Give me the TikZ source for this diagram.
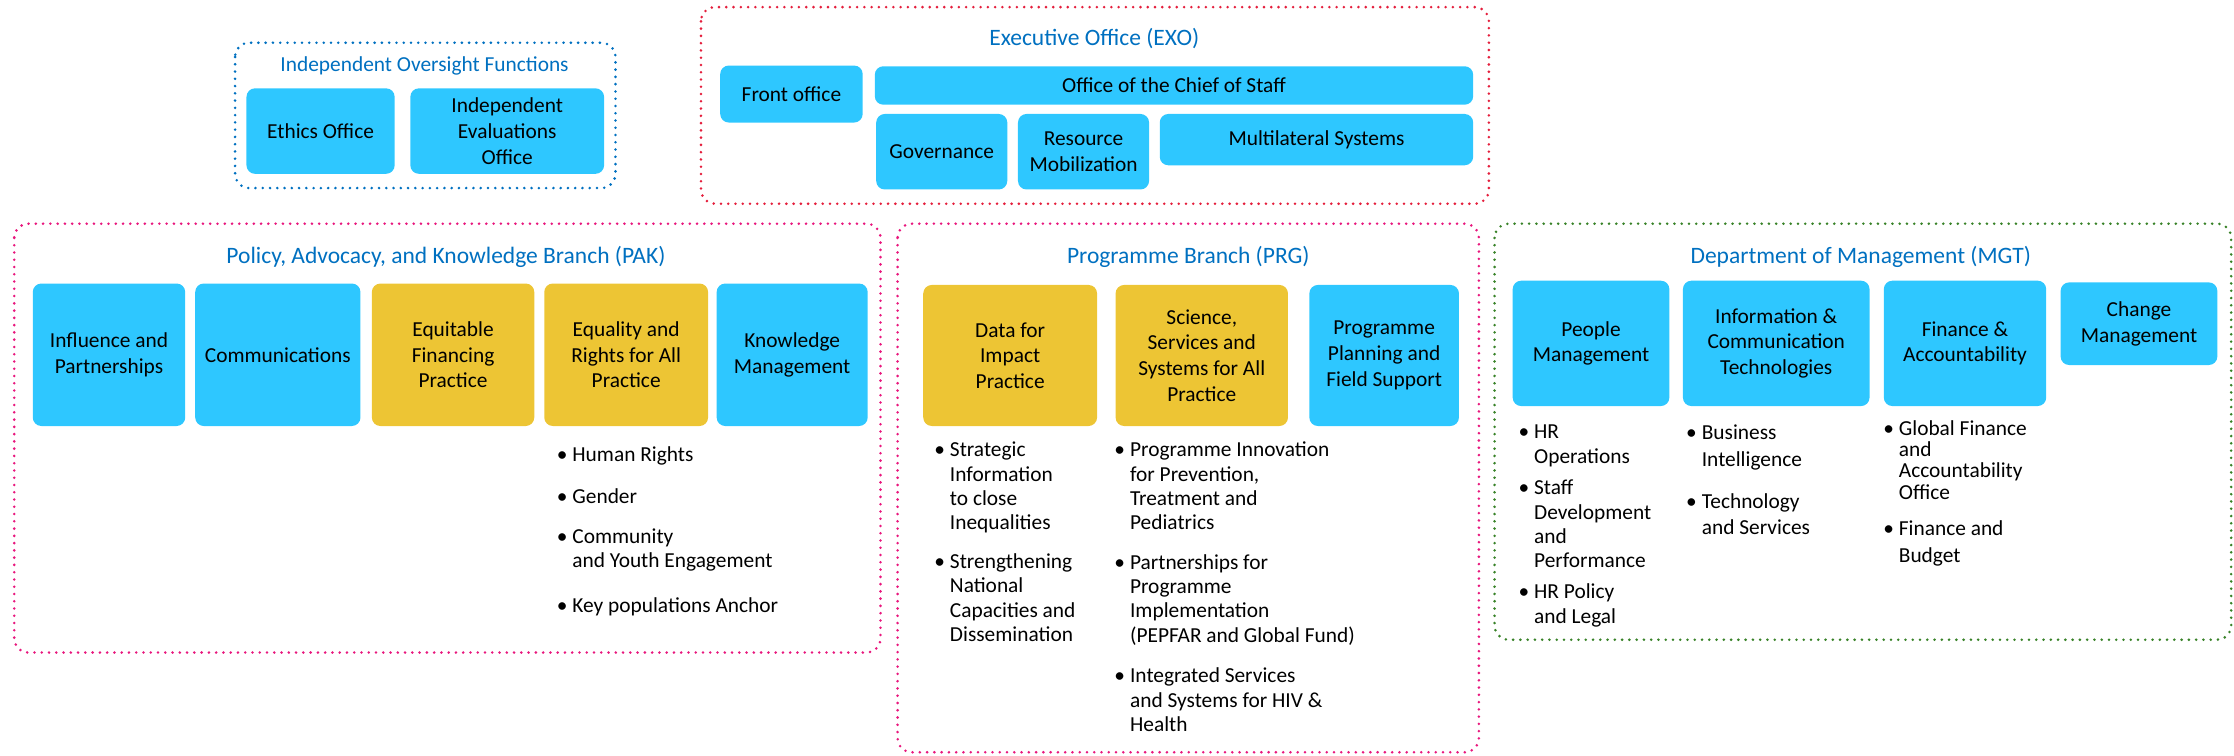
\documentclass[tikz,border=0pt]{standalone}
\usepackage{fontspec}
\setmainfont{Carlito}
\usepackage{tikz}

\definecolor{unitblue}{RGB}{46,199,255}
\definecolor{practiceyellow}{RGB}{237,197,52}
\definecolor{titleblue}{RGB}{0,112,192}
\definecolor{exored}{RGB}{228,30,60}
\definecolor{branchpink}{RGB}{232,23,125}
\definecolor{mgtgreen}{RGB}{56,130,40}

\newcommand{\bulletlist}[1]{\begin{tabular}{@{}l@{\hspace{3.5pt}}l@{}}#1\end{tabular}}

\begin{document}
\begin{tikzpicture}[x=1pt,y=-1pt,
	unitbox/.style={fill=unitblue,rounded corners=6pt,align=center,inner sep=2pt,font=\fontsize{15}{18}\selectfont},
	practicebox/.style={unitbox,fill=practiceyellow},
	groupframe/.style={line width=2pt,dash pattern=on 0pt off 5.1pt,line cap=round,rounded corners=10pt},
	grouptitle/.style={text=titleblue,font=\fontsize{16.5}{19}\selectfont},
	itemlist/.style={anchor=north west,inner sep=0pt,font=\fontsize{15}{17}\selectfont}]
		\useasboundingbox (0,0) rectangle (1568,530);
		
		% group frames
		\draw[groupframe,draw=titleblue] (165,30) rectangle (432,132);
		\draw[groupframe,draw=exored] (492,5) rectangle (1045,143);
		\draw[groupframe,draw=branchpink] (10,157) rectangle (618,458);
		\draw[groupframe,draw=branchpink] (630,157) rectangle (1038,528);
		\draw[groupframe,draw=mgtgreen] (1049,157) rectangle (1566,449);
		
		% independent oversight
		\node[grouptitle,font=\fontsize{15}{18}\selectfont] (ioftitle) at (298,46) {Independent Oversight Functions};
		\node[unitbox,minimum width=104,minimum height=60] (ethics) at (225,92) {Ethics Office};
		\node[unitbox,minimum width=136,minimum height=60] (ieo) at (356,92) {Independent\\Evaluations\\Office};
		
		% executive office
		\node[grouptitle] (exotitle) at (768,27) {Executive Office (EXO)};
		\node[unitbox,minimum width=100,minimum height=40] (front) at (555.5,66) {Front office};
		\node[unitbox,minimum width=420,minimum height=27] (chief) at (824,60) {Office of the Chief of Staff};
		\node[unitbox,minimum width=92,minimum height=53] (gov) at (661,106.5) {Governance};
		\node[unitbox,minimum width=92,minimum height=53] (resmob) at (760.5,106.5) {Resource\\Mobilization};
		\node[unitbox,minimum width=220,minimum height=36] (multi) at (924,98) {Multilateral Systems};
		
		% policy, advocacy and knowledge
		\node[grouptitle] (paktitle) at (313,180) {Policy, Advocacy, and Knowledge Branch (PAK)};
		\node[unitbox,minimum width=107,minimum height=100] (influence) at (76.5,249) {Influence and\\Partnerships};
		\node[unitbox,minimum width=116,minimum height=100] (comms) at (195,249) {Communications};
		\node[practicebox,minimum width=114,minimum height=100] (equfin) at (318,249) {Equitable\\Financing\\Practice};
		\node[practicebox,minimum width=115,minimum height=100] (eqrights) at (439.5,249) {Equality and\\Rights for All\\Practice};
		\node[unitbox,minimum width=106,minimum height=100] (knowledge) at (556,249) {Knowledge\\Management};
		\node[itemlist] (humanrights) at (390.6,312) {\bulletlist{\textbullet & Human Rights}};
		\node[itemlist] (gender) at (390.6,341.3) {\bulletlist{\textbullet & Gender}};
		\node[itemlist] (community) at (390.6,369.3) {\bulletlist{\textbullet & Community\\ & and Youth Engagement}};
		\node[itemlist] (keypop) at (390.6,418) {\bulletlist{\textbullet & Key populations Anchor}};
		
		% programme branch
		\node[grouptitle] (prgtitle) at (834,180) {Programme Branch (PRG)};
		\node[practicebox,minimum width=122,minimum height=99] (data) at (709,249.5) {Data for\\Impact\\Practice};
		\node[practicebox,minimum width=121,minimum height=99] (science) at (843.5,249.5) {Science,\\Services and\\Systems for All\\Practice};
		\node[unitbox,minimum width=105,minimum height=99] (planning) at (971.5,249.5) {Programme\\Planning and\\Field Support};
		\node[itemlist] (strategic) at (655.6,308.6) {\bulletlist{\textbullet & Strategic\\ & Information\\ & to close\\ & Inequalities}};
		\node[itemlist] (strengthen) at (655.6,387) {\bulletlist{\textbullet & Strengthening\\ & National\\ & Capacities and\\ & Dissemination}};
		\node[itemlist] (innovation) at (782,308.6) {\bulletlist{\textbullet & Programme Innovation\\ & for Prevention,\\ & Treatment and\\ & Pediatrics}};
		\node[itemlist] (partners) at (782,387.6) {\bulletlist{\textbullet & Partnerships for\\ & Programme\\ & Implementation\\ & (PEPFAR and Global Fund)}};
		\node[itemlist] (integrated) at (782,467.2) {\bulletlist{\textbullet & Integrated Services\\ & and Systems for HIV \&\\ & Health}};
		
		% department of management
		\node[grouptitle] (mgttitle) at (1306,180) {Department of Management (MGT)};
		\node[unitbox,minimum width=110,minimum height=88] (people) at (1116.7,241) {People\\Management};
		\node[unitbox,minimum width=131,minimum height=88] (ict) at (1246.7,241) {Information \&\\Communication\\Technologies};
		\node[unitbox,minimum width=114,minimum height=88] (finance) at (1379.2,241) {Finance \&\\Accountability};
		\node[unitbox,minimum width=110,minimum height=58] (change) at (1501.3,227.2) {Change\\Management};
		\node[itemlist] (hrops) at (1065.6,296) {\bulletlist{\textbullet & HR\\ & Operations}};
		\node[itemlist] (staffdev) at (1065.6,335.3) {\bulletlist{\textbullet & Staff\\ & Development\\ & and\\ & Performance}};
		\node[itemlist] (hrpolicy) at (1065.6,408.2) {\bulletlist{\textbullet & HR Policy\\ & and Legal}};
		\node[itemlist,font=\fontsize{15}{18.7}\selectfont] (bi) at (1183.3,295.4) {\bulletlist{\textbullet & Business\\ & Intelligence}};
		\node[itemlist,font=\fontsize{15}{18.7}\selectfont] (techserv) at (1183.3,343.4) {\bulletlist{\textbullet & Technology\\ & and Services}};
		\node[itemlist,font=\fontsize{15}{14.8}\selectfont] (gfao) at (1321.6,295.1) {\bulletlist{\textbullet & Global Finance\\ & and\\ & Accountability\\ & Office}};
		\node[itemlist,font=\fontsize{15}{18.7}\selectfont] (budget) at (1321.6,362.9) {\bulletlist{\textbullet & Finance and\\ & Budget}};
\end{tikzpicture}
\end{document}
